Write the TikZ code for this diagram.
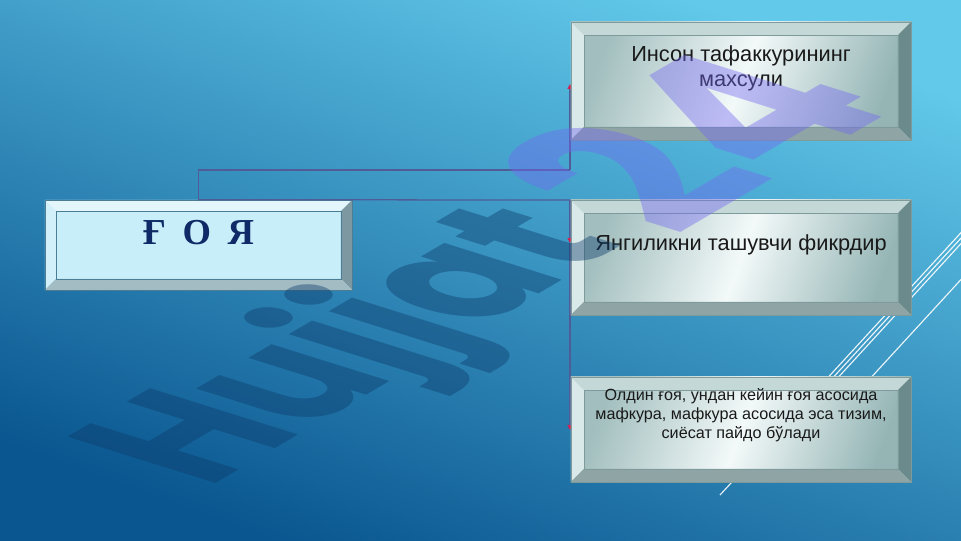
\documentclass[tikz,border=0pt]{standalone}
\usepackage{fontspec}
\setmainfont{Liberation Sans}
\newfontfamily\goyafont{Liberation Serif}
\newfontfamily\wmfont{Poppins}
\usetikzlibrary{arrows.meta}

\definecolor{bgtop}{HTML}{62C9EA}
\definecolor{bgbot}{HTML}{0A5690}
\definecolor{metaltop}{HTML}{C4D8D8}
\definecolor{metalleft}{HTML}{D9E8E8}
\definecolor{metalright}{HTML}{6A8A8B}
\definecolor{metalbot}{HTML}{8FA5A5}
\definecolor{metaledge}{HTML}{7E9A9A}
\definecolor{metalside}{HTML}{A2BEBE}
\definecolor{metalmid}{HTML}{F3F9F9}
\definecolor{metalside2}{HTML}{95B5B5}
\definecolor{ideaface}{HTML}{C8EEFA}
\definecolor{ideatop}{HTML}{E2F6FC}
\definecolor{idealeft}{HTML}{D2F0F9}
\definecolor{idearight}{HTML}{7E98A2}
\definecolor{ideabot}{HTML}{A3BBC3}
\definecolor{ideaedge}{HTML}{4B7D94}
\definecolor{goyanavy}{HTML}{0F2A66}
\definecolor{linkcol}{HTML}{4F5C98}
\definecolor{tipred}{HTML}{D02050}
\definecolor{wmnavy}{HTML}{0D3C6B}
\definecolor{wmviolet}{HTML}{7468F0}

% bevel: width, top, left, right, bottom, inner line
\newcommand{\bevelfill}[6]{%
  \coordinate (pnw) at (path picture bounding box.north west);
  \coordinate (pne) at (path picture bounding box.north east);
  \coordinate (psw) at (path picture bounding box.south west);
  \coordinate (pse) at (path picture bounding box.south east);
  \coordinate (qnw) at ([shift={(#1,-#1)}]pnw);
  \coordinate (qne) at ([shift={(-#1,-#1)}]pne);
  \coordinate (qsw) at ([shift={(#1,#1)}]psw);
  \coordinate (qse) at ([shift={(-#1,#1)}]pse);
  \fill[#2] (pnw) -- (pne) -- (qne) -- (qnw) -- cycle;
  \fill[#3] (pnw) -- (qnw) -- (qsw) -- (psw) -- cycle;
  \fill[#4] (pne) -- (pse) -- (qse) -- (qne) -- cycle;
  \fill[#5] (psw) -- (qsw) -- (qse) -- (pse) -- cycle;
  \draw[#6, line width=0.4pt] (qnw) rectangle (qse);
}

\tikzset{
  metalbox/.style={draw=metaledge, line width=0.4pt, inner sep=0pt, minimum width=8.5cm,
    left color=metalside, right color=metalside2, middle color=metalmid, shading angle=70,
    path picture={\bevelfill{0.33cm}{metaltop}{metalleft}{metalright}{metalbot}{metaledge}}},
  ideabox/.style={draw=ideaedge, fill=ideaface, line width=0.4pt, inner sep=0pt,
    minimum width=7.675cm, minimum height=2.25cm,
    path picture={\bevelfill{0.28cm}{ideatop}{idealeft}{idearight}{ideabot}{ideaedge}}},
  goyatext/.style={font=\goyafont\bfseries\fontsize{26}{28}\selectfont, text=goyanavy},
  boxtext/.style={font=\fontsize{15.5}{18}\selectfont, text=black!90, align=center},
  smalltext/.style={font=\fontsize{11.5}{13.5}\selectfont, text=black!90, align=center},
  link/.style={draw=linkcol, line width=0.9pt},
  linktip/.style={-{Triangle[length=3.5pt,width=3.5pt,color=tipred]}},
  deco/.style={draw=white, line width=0.8pt, opacity=0.9},
  wmark/.style={transform shape, anchor=base west, inner sep=0pt, text opacity=0.42,
    font=\wmfont\bfseries\fontsize{100}{100}\selectfont},
}

\begin{document}
\begin{tikzpicture}[x=0.025cm,y=-0.025cm]
    \useasboundingbox (0,0) rectangle (961,540);
    \clip (0,0) rectangle (961,540);
    \shade[top color=bgtop, bottom color=bgbot, shading angle=-20] (0,0) rectangle (961,540);

    % thin lines on the right
    \draw[deco] (720,495) -- ++(260,-283);
    \foreach \dx in {5,10,43}
        \draw[deco] (734+\dx,480) -- ++(246,-268);

    % connectors
    \coordinate (j1) at (570,170);
    \coordinate (j2) at (570,200);
    \coordinate (a1) at (570,84);
    \coordinate (a2) at (570,243);
    \coordinate (a3) at (570,430);

    \node[ideabox] (idea) at (198.5,245) {};
    \draw[link] (idea.north) |- (j1);
    \draw[link,linktip] (j1) -- (a1);
    \draw[link] (idea.north) -- (j2);
    \draw[link,linktip] (j2) -- (a2);
    \draw[link,linktip] (a2) -- (a3);

    % boxes
    \node[metalbox, minimum height=2.95cm] (prod) at (741,81) {};
    \node[metalbox, minimum height=2.875cm] (news) at (741,257.5) {};
    \node[metalbox, minimum height=2.625cm] (order) at (741,429.5) {};

    \node[goyatext] (idea-t) at ([yshift=9pt]idea.center) {Ғ\hspace{0.45em}О\hspace{0.45em}Я};
    \node[boxtext] (prod-t) at ([yshift=9pt]prod.center) {Инсон тафаккурининг\\махсули};
    \node[boxtext] (news-t) at ([yshift=9pt]news.center) {Янгиликни ташувчи фикрдир};
    \node[smalltext] (order-t) at ([yshift=10pt]order.center)
        {Олдин ғоя, ундан кейин ғоя асосида\\мафкура, мафкура асосида эса тизим,\\сиёсат пайдо бўлади};

    % watermark
    \begin{scope}[shift={(207,489)}]
        \node[cm={0.966,0.568,-1.5,0.47,(0,0)}, wmark, text=wmnavy] (wm) at (0,0) {Hujjat};
    \end{scope}
    \begin{scope}[shift={([shift={(50,-5)}]wm.base east)}]
        \node[cm={1.3,0.76,-1.95,0.61,(0,0)}, wmark, text=wmviolet] (wm2) at (0,0) {24};
    \end{scope}
\end{tikzpicture}
\end{document}
